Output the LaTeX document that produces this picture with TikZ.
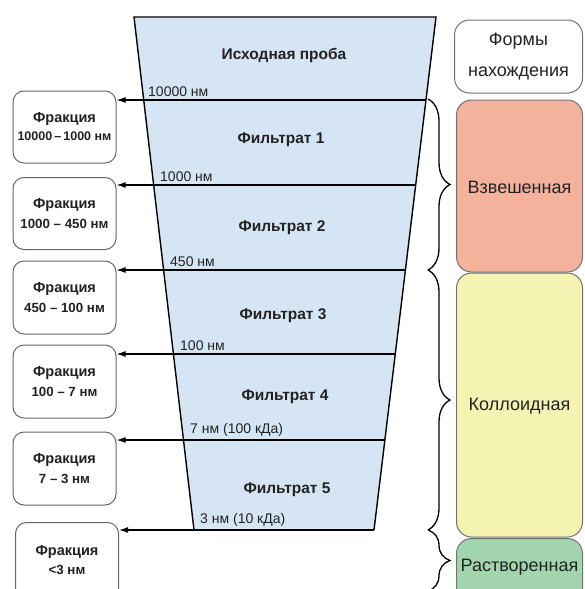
\documentclass[tikz,border=0pt]{standalone}
\usepackage{fontspec}
\setmainfont{Liberation Sans}
\usetikzlibrary{decorations.pathreplacing,arrows.meta}
\definecolor{trapblue}{HTML}{D6E5F4}
\definecolor{salmon}{HTML}{F4B19B}
\definecolor{paleyellow}{HTML}{F4F3B2}
\definecolor{palegreen}{HTML}{A2D5AE}
\definecolor{txt}{HTML}{222222}
\begin{document}
\begin{tikzpicture}[x=1pt,y=-1pt,
  fracbox/.style={draw=black!60,line width=1pt,rounded corners=11pt,fill=white,
    minimum width=103pt,align=center,text=txt,inner sep=0pt},
  formbox/.style={draw=black!55,line width=1pt,rounded corners=15pt,
    minimum width=128pt,align=center,text=txt,inner sep=0pt,font=\fontsize{18}{22}\selectfont},
  formtext/.style={text=txt,font=\fontsize{18}{22}\selectfont},
  cutlabel/.style={anchor=south west,text=txt,inner sep=0pt,font=\fontsize{14}{16}\selectfont},
  filtlabel/.style={text=txt,font=\bfseries\fontsize{15.5}{18}\selectfont},
  cutarrow/.style={line width=1.3pt,-{Latex[length=9pt,width=6pt]}},
  bracestyle/.style={line width=1.3pt,decorate,decoration={brace,amplitude=22pt}}
]
\useasboundingbox (0,0) rectangle (584,589);
\clip (0,0) rectangle (584,589);

% trapezoid
\coordinate (tl) at (134,17);
\coordinate (tr) at (436,17);
\coordinate (bl) at (194,530);
\coordinate (br) at (374,530);
\fill[trapblue] (tl) -- (tr) -- (br) -- (bl) -- cycle;

% cut points on right edge
\coordinate (r1) at (426,100);
\coordinate (r2) at (415.7,185);
\coordinate (r3) at (405.4,270);
\coordinate (r4) at (395.2,354);
\coordinate (r5) at (384.8,440);
\coordinate (r6) at (br);

% fraction boxes
\newcommand{\fracline}[2]{{\bfseries\fontsize{14.5}{17}\selectfont #1}\\[6pt]{\bfseries\fontsize{13.3}{15}\selectfont #2}}
\node[fracbox,minimum height=72pt] (f1) at (64.5,127) {\fracline{Фракция}{\fontsize{12.5}{15}\selectfont 10000\,–\,1000 нм}};
\node[fracbox,minimum height=72pt] (f2) at (64.5,213.5) {\fracline{Фракция}{1000 – 450 нм}};
\node[fracbox,minimum height=73pt] (f3) at (64.5,297.5) {\fracline{Фракция}{450 – 100 нм}};
\node[fracbox,minimum height=73pt] (f4) at (64.5,381.5) {\fracline{Фракция}{100 – 7 нм}};
\node[fracbox,minimum height=73pt] (f5) at (64.5,468.5) {\fracline{Фракция}{7 – 3 нм}};
\node[fracbox,minimum height=80pt,anchor=north] (f6) at (67,522) {};
\node[text=txt,align=center,inner sep=0pt] (f6t) at (67,560) {\fracline{Фракция}{<3 нм}};

% cut lines with arrows
\draw[cutarrow] (r1) -- (r1 -| f1.east);
\draw[cutarrow] (r2) -- (r2 -| f2.east);
\draw[cutarrow] (r3) -- (r3 -| f3.east);
\draw[cutarrow] (r4) -- (r4 -| f4.east);
\draw[cutarrow] (r5) -- (r5 -| f5.east);
\draw[cutarrow] (r6) -- (r6 -| f6.east);

% trapezoid outline
\draw[line width=1.4pt,line join=miter] (bl) -- (tl) -- (tr) -- (br);

% cut labels
\node[cutlabel] (c1) at (148,97) {10000 нм};
\node[cutlabel] (c2) at (160,182) {1000 нм};
\node[cutlabel] (c3) at (170,267) {450 нм};
\node[cutlabel] (c4) at (180,351) {100 нм};
\node[cutlabel] (c5) at (190,437) {7 нм (100 кДа)};
\node[cutlabel] (c6) at (200,527) {3 нм (10 кДа)};

% filtrate labels
\node[filtlabel] (p0) at (284,55) {Исходная проба};
\node[filtlabel] (p1) at (281,140) {Фильтрат 1};
\node[filtlabel] (p2) at (282,228) {Фильтрат 2};
\node[filtlabel] (p3) at (283,316) {Фильтрат 3};
\node[filtlabel] (p4) at (285,397) {Фильтрат 4};
\node[filtlabel] (p5) at (287,490) {Фильтрат 5};

% right boxes
\node[formbox,fill=white,minimum height=73pt] (form) at (518.5,56.5) {Формы\\[9pt]нахождения};
\node[formbox,fill=salmon,minimum height=172pt,minimum width=126pt] (s1) at (519.5,186) {};
\node[formtext] (s1t) at (519.5,187) {Взвешенная};
\node[formbox,fill=paleyellow,minimum height=264pt,minimum width=126pt] (s2) at (519.5,405) {};
\node[formtext] (s2t) at (519.5,406) {Коллоидная};
\node[formbox,fill=palegreen,minimum height=80pt,minimum width=126pt,anchor=north] (s3) at (519.5,538) {};
\node[formtext] (s3t) at (519.5,567) {Растворенная};

% braces
\coordinate (b0) at (428,99);
\coordinate (b1) at (428,270);
\coordinate (b2) at (428,530);
\coordinate (b3) at (428,591);
\draw[bracestyle] (b0) -- (b1);
\draw[bracestyle] (b1) -- (b2);
\draw[bracestyle] (b2) -- (b3);
\end{tikzpicture}
\end{document}
